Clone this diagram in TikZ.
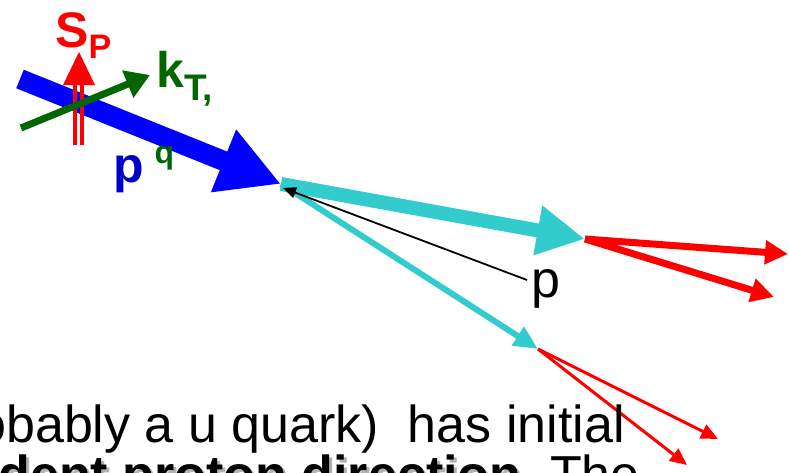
\documentclass[tikz,border=0pt]{standalone}
\usepackage{fontspec}
\setmainfont{Liberation Sans}
\usetikzlibrary{arrows.meta}
\definecolor{arrblue}{HTML}{0000FF}
\definecolor{txtblue}{HTML}{0000CC}
\definecolor{kgreen}{HTML}{006600}
\definecolor{cyanq}{HTML}{33CCCC}
\definecolor{redq}{HTML}{FF0000}
\tikzset{
  lbl/.style={anchor=base west, inner sep=0pt, font=\bfseries\fontsize{50}{56}\selectfont},
  txt/.style={anchor=base east, inner sep=0pt, font=\fontsize{52}{60}\selectfont\frenchspacing},
}
\begin{document}
\begin{tikzpicture}[x=1pt,y=-1pt]
\useasboundingbox (0,0) rectangle (789,472);
\clip (0,0) rectangle (789,472);
\fill[white] (0,0) rectangle (789,472);

% coordinates
\coordinate (b0) at (20,79);
\coordinate (v) at (281,184);
\coordinate (vb) at (283,188);
\coordinate (s0) at (78.5,145);
\coordinate (s1) at (78.5,84);
\coordinate (k0) at (21,128);
\coordinate (k1) at (150,75);
\coordinate (j1) at (585,239);
\coordinate (j2) at (538,349);
\coordinate (r1) at (788,254);
\coordinate (r2) at (774,297);
\coordinate (r3) at (718,439);
\coordinate (r4) at (687,465);

% blue quark arrow
\draw[arrblue, line width=20pt, -{Triangle[length=62pt,width=63pt]}] (b0) -- (v);

% spin arrow (double line)
\draw[redq, line width=3.8pt] ([xshift=-3.7pt]s0) -- ([xshift=-3.7pt]s1);
\draw[redq, line width=3.8pt] ([xshift=3.7pt]s0) -- ([xshift=3.7pt]s1);
\fill[redq] (63,85) -- (95,85) -- (79,52) -- cycle;

% kT arrow
\draw[kgreen, line width=7pt, -{Triangle[length=24pt,width=28pt]}] (k0) -- (k1);

% labels
\node[lbl, text=redq] (sp) at (55,47) {S\raisebox{-11pt}{\fontsize{34}{34}\selectfont P}};
\node[lbl, text=kgreen] (kt) at (156,87) {k\raisebox{-13pt}{\fontsize{37}{37}\selectfont T,}};
\node[lbl, text=txtblue] (pq) at (113,182) {p\hspace{11pt}\raisebox{19pt}{\textcolor{kgreen}{\fontsize{32}{32}\selectfont q}}};

% outgoing cyan arrows
\draw[cyanq, line width=14pt, -{Triangle[length=48pt,width=47pt]}] (v) -- (j1);
\draw[cyanq, line width=6pt, -{Triangle[length=24pt,width=21pt]}] (v) -- (j2);

% proton label and arrow
\node[anchor=base west, inner sep=0pt, font=\fontsize{52}{60}\selectfont] (plab) at (531,297) {p};
\coordinate (pl) at (527,280);
\draw[black, line width=1.8pt, -{Triangle[length=13pt,width=11pt]}] (pl) -- (vb);

% red fragments
\draw[redq, line width=7pt, -{Triangle[length=23pt,width=23pt]}] (j1) -- (r1);
\draw[redq, line width=7pt, -{Triangle[length=23pt,width=23pt]}] (j1) -- (r2);
\draw[redq, line width=3pt, -{Triangle[length=17pt,width=15pt]}] (j2) -- (r3);
\draw[redq, line width=3pt, -{Triangle[length=17pt,width=15pt]}] (j2) -- (r4);

% text lines (cut off)
\node[txt] (t1) at (625,442) {obably a u quark)\ \ has initial};
\node[txt, text=black!30] (t2s) at (643,495) {\textbf{dent proton direction.}\phantom{ The}};
\node[txt] (t2) at (640,492) {\textbf{dent proton direction.} The};
\end{tikzpicture}
\end{document}
